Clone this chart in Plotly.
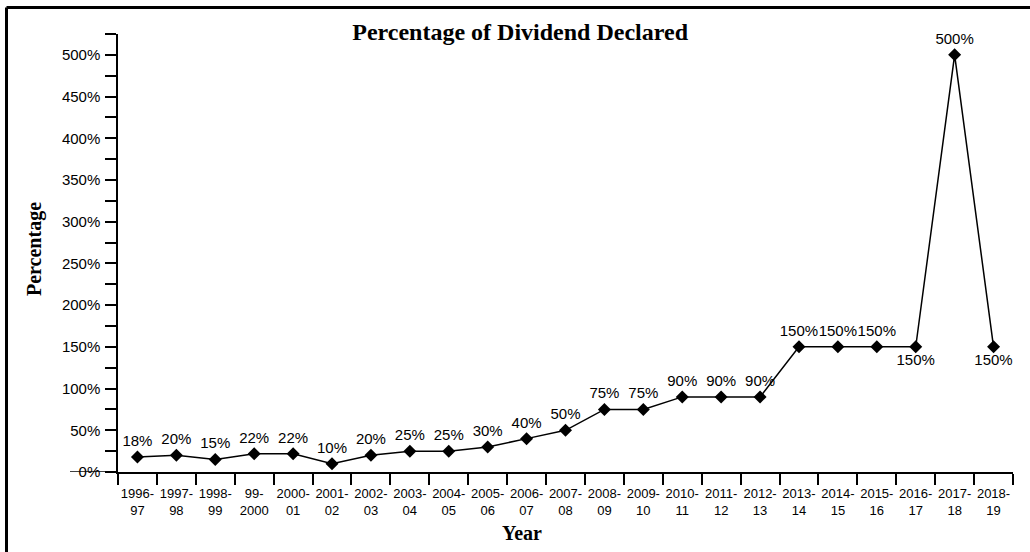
import plotly.graph_objects as go

years = ["1996-<br>97", "1997-<br>98", "1998-<br>99", "99-<br>2000", "2000-<br>01", "2001-<br>02",
         "2002-<br>03", "2003-<br>04", "2004-<br>05", "2005-<br>06", "2006-<br>07", "2007-<br>08",
         "2008-<br>09", "2009-<br>10", "2010-<br>11", "2011-<br>12", "2012-<br>13", "2013-<br>14",
         "2014-<br>15", "2015-<br>16", "2016-<br>17", "2017-<br>18", "2018-<br>19"]
dividend = [18, 20, 15, 22, 22, 10, 20, 25, 25, 30, 40, 50, 75, 75, 90, 90, 90, 150, 150, 150, 150, 500, 150]
label_pos = ["top center"] * 20 + ["bottom center", "top center", "bottom center"]

W, H = 1030, 552
L, R, T, B = 118, 17, 34, 80
pw, ph = W - L - R, H - T - B

def px_x(p):
    return (p - L) / pw

def px_y(p):
    return (H - B - p) / ph

sans = "Liberation Sans, Arial, sans-serif"
serif = "Liberation Serif, Times New Roman, serif"

fig = go.Figure()
fig.add_trace(go.Scatter(
    x=years, y=dividend, mode="lines+markers+text",
    text=[f"{v}%" for v in dividend], textposition=label_pos,
    textfont=dict(family=sans, size=15, color="black"),
    line=dict(color="black", width=1.5),
    marker=dict(symbol="diamond", size=10, color="black"),
    cliponaxis=False, showlegend=False, hoverinfo="skip",
))

fig.update_layout(
    width=W, height=H,
    margin=dict(l=L, r=R, t=T, b=B),
    paper_bgcolor="white", plot_bgcolor="white",
    font=dict(family=sans, size=13, color="black"),
    title=dict(text="<b>Percentage of Dividend Declared</b>", x=0.505, xanchor="center",
               y=1 - 32 / H, yanchor="middle", font=dict(family=serif, size=24, color="black")),
    xaxis=dict(type="category", range=[-0.5, len(years) - 0.5], tickson="boundaries",
               ticks="outside", ticklen=11, tickwidth=1.5, tickcolor="black",
               ticklabelstandoff=9,
               showline=True, linecolor="black", linewidth=1.5, showgrid=False,
               tickfont=dict(family=sans, size=13, color="black"), tickangle=0),
    yaxis=dict(range=[0, 525], dtick=50, tick0=0, ticksuffix="%",
               ticks="outside", ticklen=11, tickwidth=1.5, tickcolor="black",
               ticklabelstandoff=2,
               minor=dict(dtick=25, tick0=0, ticks="outside", ticklen=11, tickwidth=1.5, tickcolor="black", showgrid=False),
               showline=True, linecolor="black", linewidth=1.5, showgrid=False, zeroline=False,
               tickfont=dict(family=sans, size=15, color="black")),
    annotations=[
        dict(text="<b>Percentage</b>", xref="paper", yref="paper", x=px_x(34), y=px_y(249),
             textangle=-90, showarrow=False, xanchor="center", yanchor="middle",
             font=dict(family=serif, size=20, color="black")),
        dict(text="<b>Year</b>", xref="paper", yref="paper", x=px_x(522), y=px_y(533),
             showarrow=False, xanchor="center", yanchor="middle",
             font=dict(family=serif, size=20, color="black")),
    ],
    shapes=[
        dict(type="line", xref="paper", yref="y", x0=px_x(70), x1=0, y0=0, y1=0,
             line=dict(color="black", width=1.5)),
        dict(type="line", xref="paper", yref="paper", x0=px_x(6.5), x1=px_x(1040), y0=px_y(7.5), y1=px_y(7.5),
             line=dict(color="black", width=3)),
        dict(type="line", xref="paper", yref="paper", x0=px_x(6.5), x1=px_x(6.5), y0=px_y(7.5), y1=px_y(560),
             line=dict(color="black", width=3)),
    ],
)

fig.write_html("out.html", config={"displayModeBar": False},
               post_script="document.body.style.margin='0';document.body.style.overflow='hidden';")
